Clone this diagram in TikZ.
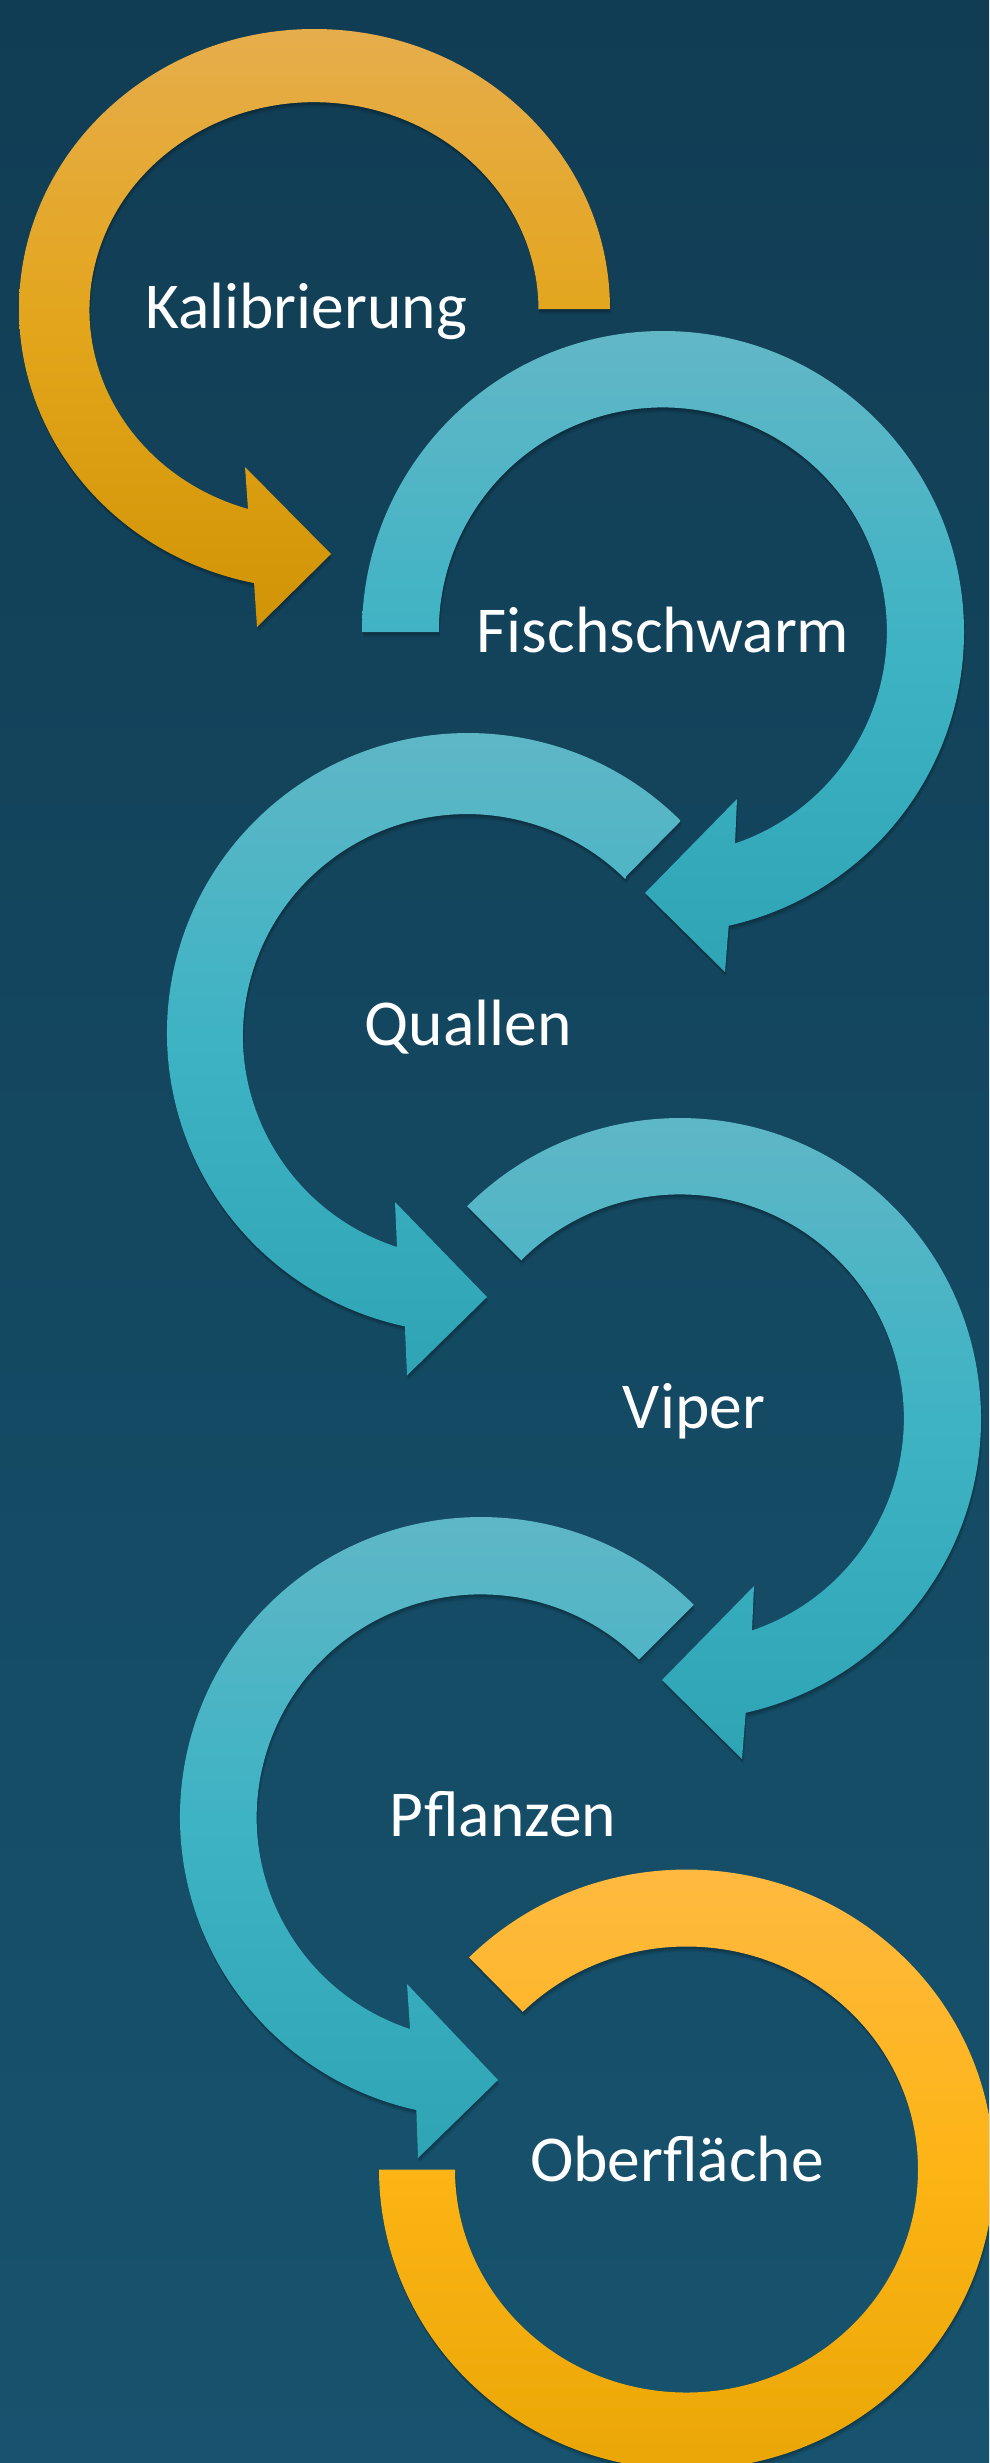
\documentclass[tikz,border=0pt]{standalone}
\usepackage{fontspec}
\setmainfont{Carlito}
\usetikzlibrary{shadows}
\definecolor{bgtop}{HTML}{113D54}
\definecolor{bgbot}{HTML}{17536E}
\definecolor{oAtop}{HTML}{E6AD4C}
\definecolor{oAmid}{HTML}{E3A51B}
\definecolor{oAbot}{HTML}{D19406}
\definecolor{oBtop}{HTML}{FFBA45}
\definecolor{oBmid}{HTML}{FDB415}
\definecolor{oBbot}{HTML}{E8A505}
\definecolor{tTop}{HTML}{62B7C6}
\definecolor{tMid}{HTML}{3DB3C4}
\definecolor{tBot}{HTML}{2EA4B5}
\begin{document}
\begin{tikzpicture}[x=1pt,y=1pt,
  lbl/.style={text=white,font=\fontsize{65.5}{78}\selectfont,anchor=base,inner sep=0pt},
  shad/.style={
    drop shadow={shadow xshift=0pt,shadow yshift=-1pt,opacity=0.10,fill=black},
    drop shadow={shadow xshift=0.5pt,shadow yshift=-2.5pt,opacity=0.10,fill=black},
    drop shadow={shadow xshift=1pt,shadow yshift=-4pt,opacity=0.08,fill=black},
    drop shadow={shadow xshift=1.5pt,shadow yshift=-5.5pt,opacity=0.06,fill=black}},
  orangeA/.style={top color=oAtop,bottom color=oAbot,middle color=oAmid},
  orangeB/.style={top color=oBtop,bottom color=oBbot,middle color=oBmid},
  teal/.style={top color=tTop,bottom color=tBot,middle color=tMid}]
\fill[top color=bgtop,bottom color=bgbot] (0,0) rectangle (989,-2463);
\useasboundingbox (0,0) rectangle (989,-2463);
\begin{scope}
\clip (0,0) rectangle (989,-2463);
% arrow 1
\path[orangeA,shad] (539,-309) -- (610,-309) arc[start angle=0,end angle=258.2,x radius=295.5,y radius=280] -- (257,-627) -- (331,-554) -- (245,-467) -- (248,-509) arc[start angle=252.9,end angle=0,x radius=224.5,y radius=208] -- cycle;
% arrow 2
\path[teal,shad] (439,-632) -- (362,-632) arc[start angle=180,end angle=-77.4,x radius=301,y radius=301] -- (725,-972) -- (645,-893) -- (737,-799) -- (735,-843.5) arc[start angle=-71.2,end angle=180,x radius=224,y radius=224] -- cycle;
% arrow 3
\path[teal,shad] (626.4,-876.0) -- (680.8,-820.9) arc[start angle=45,end angle=257.9,x radius=301,y radius=300] -- (407,-1375.5) -- (487,-1297) -- (395,-1202) -- (397,-1247) arc[start angle=251.8,end angle=45,x radius=224,y radius=222] -- cycle;
% arrow 4
\path[teal,shad] (521.6,-1260.6) -- (467.2,-1206.2) arc[start angle=135,end angle=-77.4,x radius=301,y radius=301] -- (742,-1759) -- (662,-1680) -- (754,-1586) -- (752,-1630.5) arc[start angle=-71.2,end angle=135,x radius=224,y radius=224] -- cycle;
% arrow 5
\path[teal,shad] (639.4,-1659.3) -- (693.8,-1604.9) arc[start angle=45,end angle=257.6,x radius=301,y radius=300] -- (418,-2158) -- (498,-2080) -- (407,-1984) -- (410,-2029) arc[start angle=251.6,end angle=45,x radius=224,y radius=223] -- cycle;
% arrow 6
\path[orangeB,shad] (522.8,-2011.8) -- (469.1,-1957.4) arc[start angle=135,end angle=-180,x radius=307.5,y radius=300] -- (455,-2169.5) arc[start angle=-180,end angle=135,x radius=231.5,y radius=223] -- cycle;
\end{scope}
\node[lbl] (kal) at (306,-328) {Kalibrierung};
\node[lbl] (fis) at (663,-652) {Fischschwarm};
\node[lbl] (qua) at (468,-1045) {Quallen};
\node[lbl] (vip) at (694,-1428) {Viper};
\node[lbl] (pfl) at (503,-1836) {Pflanzen};
\node[lbl] (obe) at (677,-2181) {Oberfläche};
\end{tikzpicture}
\end{document}
